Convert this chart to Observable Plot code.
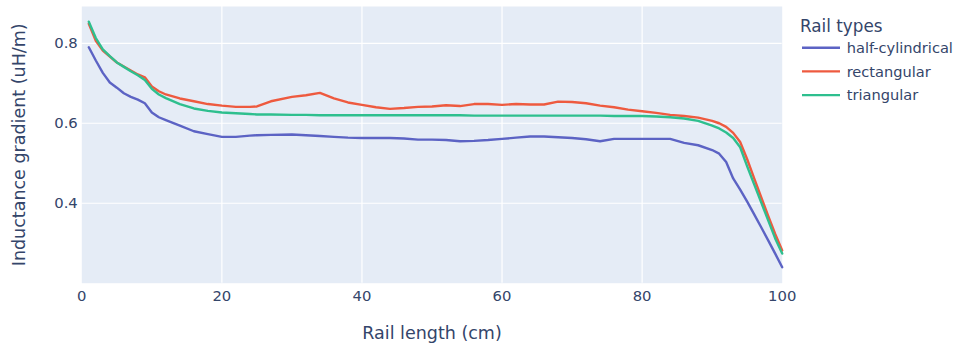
<!DOCTYPE html>
<html><head><meta charset="utf-8">
<script src="https://cdn.jsdelivr.net/npm/d3@7"></script>
<script src="https://cdn.jsdelivr.net/npm/@observablehq/plot@0.6"></script>
<style>
body{margin:0;background:#fff;}
#chart{position:relative;width:958px;height:343px;}
g[aria-label="x-axis label"] text, g[aria-label="y-axis label"] text{font-size:17.5px;}
</style></head><body><div id="chart"></div>
<script>
const railLength = [1,2,3,4,5,6,7,8,9,10,11,12,14,16,18,20,22,24,25,27,30,32,34,36,38,40,42,44,46,48,50,52,54,56,58,60,62,64,66,68,70,72,74,76,78,80,82,84,86,88,90,91,92,93,94,95,96,97,98,99,100];
const halfCylindrical = [0.790,0.757,0.726,0.702,0.689,0.675,0.666,0.659,0.650,0.627,0.615,0.608,0.594,0.580,0.573,0.566,0.566,0.569,0.570,0.571,0.572,0.570,0.568,0.566,0.564,0.563,0.563,0.563,0.562,0.559,0.559,0.558,0.555,0.556,0.558,0.561,0.564,0.567,0.567,0.565,0.563,0.560,0.555,0.561,0.561,0.561,0.561,0.561,0.551,0.545,0.533,0.524,0.503,0.462,0.434,0.404,0.372,0.340,0.307,0.274,0.240];
const rectangular = [0.849,0.806,0.782,0.767,0.752,0.742,0.732,0.722,0.715,0.692,0.680,0.672,0.662,0.655,0.648,0.644,0.641,0.641,0.642,0.655,0.666,0.670,0.676,0.662,0.652,0.646,0.640,0.636,0.638,0.641,0.642,0.645,0.643,0.648,0.648,0.646,0.648,0.647,0.647,0.654,0.653,0.650,0.644,0.640,0.634,0.630,0.626,0.621,0.618,0.614,0.606,0.600,0.591,0.576,0.553,0.510,0.462,0.415,0.368,0.323,0.282];
const triangular = [0.854,0.813,0.785,0.768,0.752,0.741,0.730,0.720,0.708,0.686,0.672,0.663,0.648,0.637,0.631,0.627,0.625,0.623,0.622,0.622,0.621,0.621,0.620,0.620,0.620,0.620,0.620,0.620,0.620,0.620,0.620,0.620,0.620,0.619,0.619,0.619,0.619,0.619,0.619,0.619,0.619,0.619,0.619,0.618,0.618,0.618,0.617,0.615,0.612,0.606,0.594,0.587,0.577,0.563,0.540,0.492,0.447,0.402,0.357,0.312,0.274];
const railTypes = ["half-cylindrical","rectangular","triangular"];
const typeColors = ["#5c63c4","#ee5a3f","#2ebf8e"];
const xTicks = [0,20,40,60,80,100];
const yTicks = [0.4,0.6,0.8];
const series = [halfCylindrical, rectangular, triangular];
const rows = railTypes.flatMap((t,i)=>railLength.map((x,j)=>({type:t,length:x,value:series[i][j]})));

const plot = Plot.plot({
  width:958, height:343,
  marginLeft:81.3, marginRight:176.3, marginTop:6, marginBottom:60.3,
  style:{fontFamily:"'DejaVu Sans', Verdana, sans-serif", fontSize:"14.8px", color:"#34456a", background:"white", overflow:"visible"},
  x:{domain:[0,100]},
  y:{domain:[0.2,0.892]},
  color:{domain:railTypes, range:typeColors},
  marks:[
    Plot.frame({fill:"#E5ECF6", stroke:null}),
    Plot.gridX(xTicks.slice(1,-1), {stroke:"white", strokeOpacity:1, strokeWidth:1.2}),
    Plot.gridY(yTicks, {stroke:"white", strokeOpacity:1, strokeWidth:1.2}),
    Plot.axisX(xTicks, {tickSize:0, tickPadding:7, label:"Rail length (cm)", labelAnchor:"center", labelArrow:"none", labelOffset:56}),
    Plot.axisY(yTicks, {tickSize:0, tickPadding:4, tickFormat:d3.format(".1f"), label:"Inductance gradient (uH/m)", labelAnchor:"center", labelArrow:"none", labelOffset:69}),
    Plot.line(rows, {x:"length", y:"value", stroke:"type", z:"type", strokeWidth:2.4})
  ]
});

const color = plot.scale("color");
const svg = d3.select(plot);
const lg = svg.append("g").attr("font-family","'DejaVu Sans', Verdana, sans-serif").attr("fill","#34456a").attr("text-anchor","start");
lg.append("text").attr("x",800).attr("y",31.5).attr("font-size","16.8px").text("Rail types");
railTypes.forEach((t,i)=>{
  const y = 47.7 + i*23.7;
  lg.append("line").attr("x1",802).attr("x2",840).attr("y1",y).attr("y2",y)
    .attr("stroke",color.apply(t)).attr("stroke-width",2.4);
  lg.append("text").attr("x",846.7).attr("y",y).attr("dy","0.35em").attr("font-size","14.6px").text(t);
});
document.getElementById("chart").appendChild(plot);
</script></body></html>
